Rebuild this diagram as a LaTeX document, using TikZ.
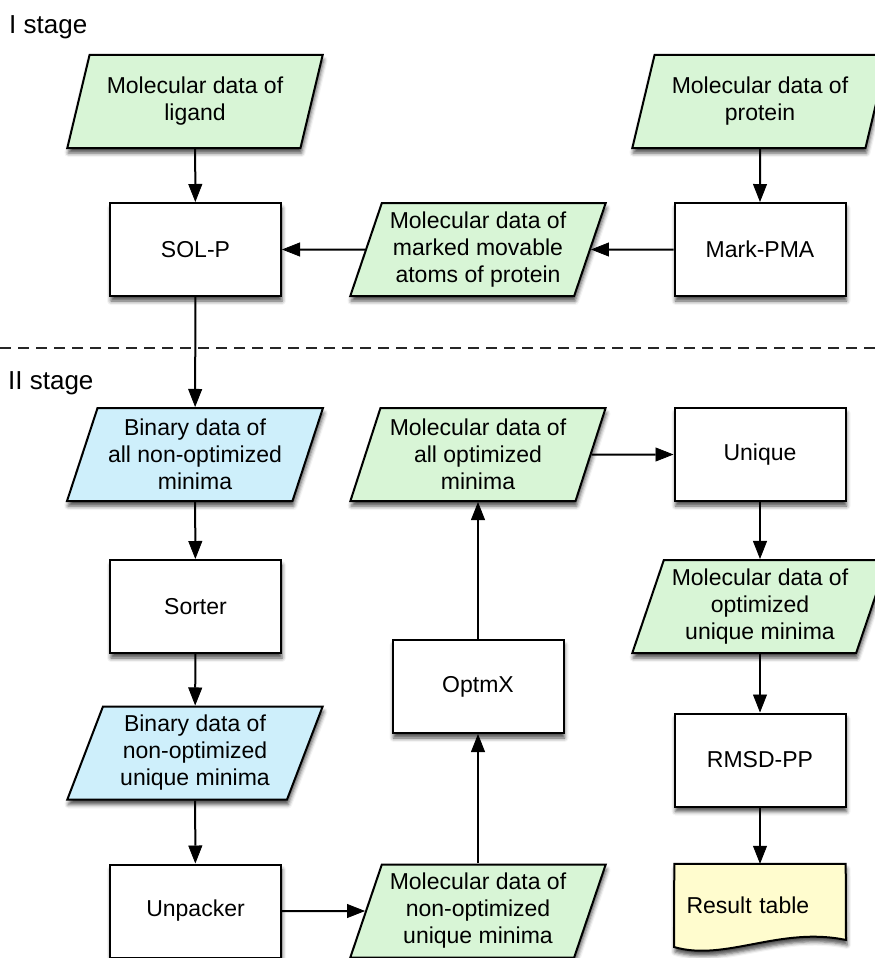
\documentclass[tikz,border=0pt]{standalone}
\usepackage{fontspec}
\setmainfont{Liberation Sans}
\usetikzlibrary{shapes.geometric,arrows.meta,shadows.blur,backgrounds}
\definecolor{lgreen}{RGB}{216,245,214}
\definecolor{lblue}{RGB}{206,239,251}
\definecolor{lyellow}{RGB}{255,252,206}
\tikzset{
 myshadow/.style={blur shadow={shadow xshift=1pt, shadow yshift=-5pt, shadow blur radius=4pt, shadow opacity=70}},
 base/.style={font=\fontsize{23}{27}\selectfont, align=center, line width=2pt, draw=black, inner sep=0pt, myshadow},
 procbox/.style={base, rectangle, fill=white, minimum width=171pt, minimum height=93pt},
 databox/.style={base, trapezium, trapezium left angle=69, trapezium right angle=111, trapezium stretches=true, minimum width=256pt, minimum height=93pt},
 gdata/.style={databox, fill=lgreen},
 bdata/.style={databox, fill=lblue},
 conn/.style={line width=2pt, draw=black, -{Triangle[length=18pt,width=14pt,fill=black,line width=0.8pt]}},
 stagelbl/.style={font=\fontsize{26}{30}\selectfont, anchor=base west, inner sep=0pt},
}
\begin{document}
\begin{tikzpicture}[x=1pt,y=-1pt]
\useasboundingbox (0,0) rectangle (875,958);
% stage labels and separator
\node[stagelbl] (s1) at (9,34) {I stage};
\node[stagelbl] (s2) at (8,389) {II stage};
\draw[line width=1.6pt, dash pattern=on 11pt off 7pt, draw=black!85] (0,348) -- (875,348);
% stage I
\node[gdata] (lig) at (195,101.5) {Molecular data of\\ligand};
\node[gdata] (prot) at (760,101.5) {Molecular data of\\protein};
\node[procbox] (solp) at (195.5,249.5) {SOL-P};
\node[gdata] (mark) at (478,249.5) {Molecular data of\\marked movable\\atoms of protein};
\node[procbox] (mpma) at (760,249.5) {Mark-PMA};
% stage II
\node[bdata] (bin1) at (195,454.5) {Binary data of\\all non-optimized\\minima};
\node[gdata] (molall) at (478,454.5) {Molecular data of\\all optimized\\minima};
\node[procbox] (uniq) at (760,454.5) {Unique};
\node[procbox] (sorter) at (195.5,606.5) {Sorter};
\node[gdata] (molopt) at (760,606.5) {Molecular data of\\optimized\\unique minima};
\node[procbox] (optmx) at (478,686.5) {OptmX};
\node[bdata] (bin2) at (195,753) {Binary data of\\non-optimized\\unique minima};
\node[procbox] (rmsd) at (760,760) {RMSD-PP};
\node[procbox] (unpack) at (195.5,911) {Unpacker};
\node[gdata] (molnon) at (478,911) {Molecular data of\\non-optimized\\unique minima};
\node[font=\fontsize{23}{27}\selectfont, inner sep=0pt, minimum width=171pt, minimum height=82pt, text width=147pt, align=left] (res) at (760,905) {Result table};
\begin{pgfonlayer}{background}
\path[fill=lyellow, draw=black, line width=2pt, myshadow]
  (res.north west) -- (res.north east) -- (846,940)
  .. controls (780,926) and (725,962) .. (674,947) -- cycle;
\end{pgfonlayer}
% connectors
\draw[conn] (lig) -- (solp);
\draw[conn] (prot) -- (mpma);
\draw[conn] (mpma) -- (mark);
\draw[conn] (mark) -- (solp);
\draw[conn] (solp) -- (bin1);
\draw[conn] (bin1) -- (sorter);
\draw[conn] (sorter) -- (bin2);
\draw[conn] (bin2) -- (unpack);
\draw[conn] (unpack) -- (molnon);
\draw[conn] (molnon) -- (optmx);
\draw[conn] (optmx) -- (molall);
\draw[conn] (molall) -- (uniq);
\draw[conn] (uniq) -- (molopt);
\draw[conn] (molopt) -- (rmsd);
\draw[conn] (rmsd) -- (res);
\end{tikzpicture}
\end{document}
